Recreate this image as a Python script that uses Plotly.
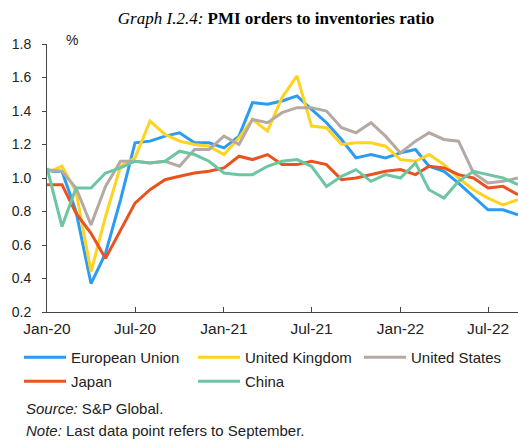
import pandas as pd
import plotly.graph_objects as go

months = pd.date_range("2020-01-01", periods=33, freq="MS")

eu = [1.04, 1.04, 0.80, 0.37, 0.55, 0.87, 1.21, 1.22, 1.25, 1.27, 1.21, 1.21, 1.18, 1.25, 1.45, 1.44, 1.46,
      1.49, 1.41, 1.33, 1.23, 1.12, 1.14, 1.12, 1.15, 1.17, 1.07, 1.04, 0.97, 0.89, 0.81, 0.81, 0.78]
uk = [1.03, 1.07, 0.92, 0.44, 0.77, 1.07, 1.12, 1.34, 1.26, 1.22, 1.20, 1.19, 1.14, 1.24, 1.35, 1.28, 1.48,
      1.61, 1.31, 1.30, 1.20, 1.21, 1.21, 1.19, 1.11, 1.10, 1.14, 1.08, 1.00, 0.93, 0.88, 0.84, 0.87]
us = [1.05, 1.04, 0.94, 0.72, 0.95, 1.10, 1.10, 1.09, 1.10, 1.07, 1.17, 1.17, 1.25, 1.20, 1.35, 1.33, 1.39,
      1.42, 1.42, 1.40, 1.30, 1.27, 1.33, 1.25, 1.15, 1.22, 1.27, 1.23, 1.22, 1.03, 0.97, 0.98, 1.00]
japan = [0.96, 0.96, 0.79, 0.67, 0.52, 0.69, 0.85, 0.93, 0.99, 1.01, 1.03, 1.04, 1.06, 1.13, 1.11, 1.14, 1.08,
         1.08, 1.10, 1.08, 0.99, 1.00, 1.02, 1.04, 1.05, 1.02, 1.07, 1.06, 1.02, 1.00, 0.94, 0.95, 0.90]
china = [1.06, 0.71, 0.94, 0.94, 1.03, 1.06, 1.10, 1.09, 1.10, 1.16, 1.14, 1.10, 1.03, 1.02, 1.02, 1.07, 1.10,
         1.11, 1.07, 0.95, 1.01, 1.05, 0.98, 1.02, 1.00, 1.09, 0.93, 0.88, 0.98, 1.04, 1.02, 1.00, 0.96]

series = [
    ("European Union", eu, "#2B9BF4", "legend"),
    ("United Kingdom", uk, "#FFD320", "legend"),
    ("United States", us, "#B5AAA3", "legend3"),
    ("Japan", japan, "#E9531F", "legend2"),
    ("China", china, "#6CC5A3", "legend2"),
]

tick_dates = ["2020-01-01", "2020-07-01", "2021-01-01", "2021-07-01", "2022-01-01", "2022-07-01"]
tick_labels = ["Jan-20", "Jul-20", "Jan-21", "Jul-21", "Jan-22", "Jul-22"]
y_ticks = [0.2, 0.4, 0.6, 0.8, 1.0, 1.2, 1.4, 1.6, 1.8]

fig = go.Figure()
for name, vals, color, leg in series:
    fig.add_trace(go.Scatter(x=months, y=vals, name=name, mode="lines", legend=leg,
                             line=dict(color=color, width=3)))

sans = "Liberation Sans, Arial, sans-serif"
PW, PH, L, B = 471, 268, 47, 312


def px_x(p):
    return (p - L) / PW


def px_y(p):
    return (B - p) / PH


legend_common = dict(
    orientation="h", xref="paper", yref="paper",
    x=px_x(19), xanchor="left", yanchor="top",
    entrywidth=117, entrywidthmode="pixels", itemwidth=42,
    font=dict(family=sans, size=15, color="#222"),
    bgcolor="rgba(0,0,0,0)",
)
fig.update_layout(
    width=518, height=441,
    margin=dict(l=47, r=0, t=44, b=129),
    paper_bgcolor="white", plot_bgcolor="white",
    font=dict(family=sans, size=14, color="#222"),
    title=dict(
        text="<i>Graph I.2.4:</i> <b>PMI orders to inventories ratio</b>",
        font=dict(family="Liberation Serif, Times New Roman, serif", size=17, color="#000"),
        x=276 / 518, xanchor="center", y=1 - 18 / 441, yanchor="middle",
    ),
    showlegend=True,
    legend=dict(legend_common, y=px_y(341)),
    legend2=dict(legend_common, y=px_y(365)),
    legend3=dict(legend_common, x=px_x(359), y=px_y(341), entrywidth=100),
)
fig.update_xaxes(
    range=["2020-01-01", "2022-09-01"],
    tickvals=tick_dates, ticktext=tick_labels,
    showline=True, linecolor="#444", linewidth=1,
    ticks="inside", ticklen=5, tickcolor="#444",
    showgrid=False, zeroline=False, ticklabelstandoff=2,
    tickfont=dict(size=15.5),
)
fig.update_yaxes(
    range=[0.2, 1.8], tickvals=y_ticks, tickformat=".1f",
    showline=True, linecolor="#444", linewidth=1,
    ticks="outside", ticklen=4, tickcolor="#444",
    showgrid=False, zeroline=False, ticklabelstandoff=8,
)
fig.add_annotation(text="%", xref="paper", yref="paper", x=px_x(72), y=px_y(40),
                   showarrow=False, xanchor="center", yanchor="middle", font=dict(size=14, family=sans))
fig.add_annotation(text="<i>Source:</i> S&P Global.", xref="paper", yref="paper",
                   x=px_x(24), y=px_y(408), showarrow=False,
                   xanchor="left", yanchor="middle", font=dict(size=15, family=sans, color="#222"))
fig.add_annotation(text="<i>Note:</i> Last data point refers to September.", xref="paper", yref="paper",
                   x=px_x(24), y=px_y(430), showarrow=False,
                   xanchor="left", yanchor="middle", font=dict(size=15, family=sans, color="#222"))

fig.write_html("out.html", config={"displayModeBar": False},
               post_script="document.body.style.margin='0';document.body.style.padding='0';")
